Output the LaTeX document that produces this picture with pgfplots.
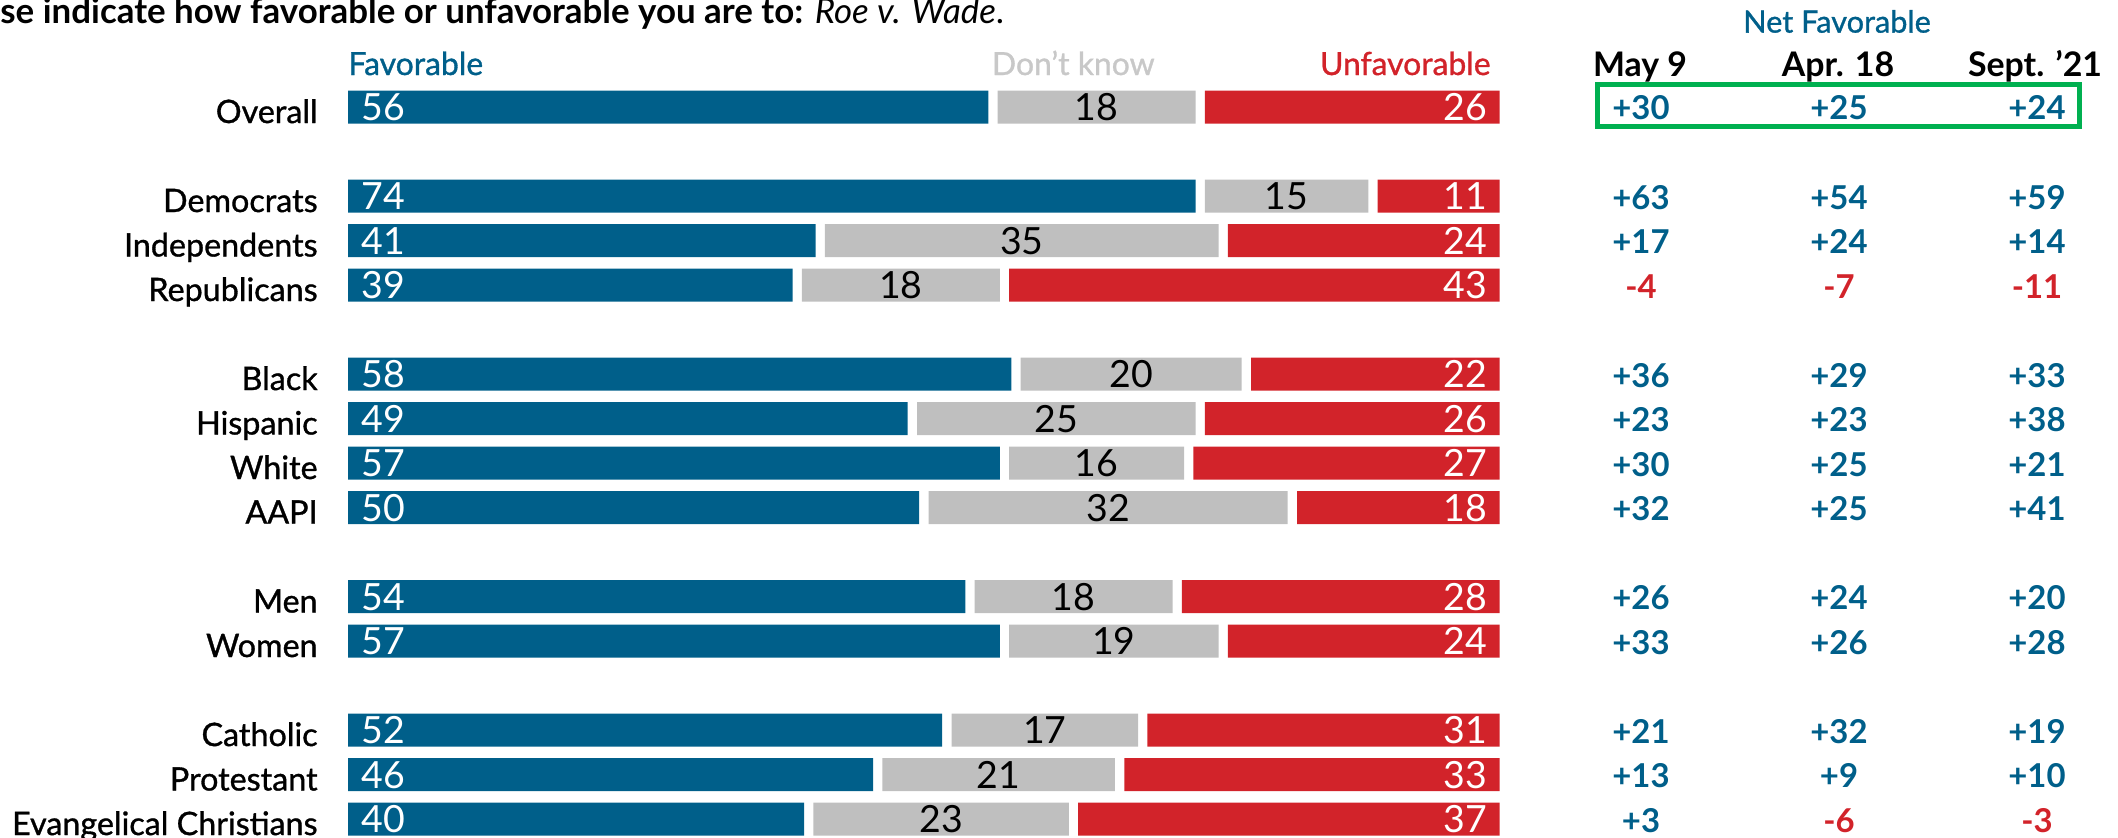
\documentclass[border=0pt]{standalone}
\usepackage{pgfplots}
\pgfplotsset{compat=1.18}
\usepackage{pgfplotstable}
\usepackage{fontspec}
\setmainfont{Lato}
\newfontfamily\med{Lato}[FakeBold=1]
\newcommand\demi{\bfseries}
\definecolor{cblue}{HTML}{005F8A}
\definecolor{cred}{HTML}{D2232A}
\definecolor{cgray}{HTML}{BFBFBF}
\definecolor{cdk}{HTML}{C8C8C8}
\definecolor{cgreen}{HTML}{00B050}

\pgfplotstableread{
row fav dk unf
0 56 18 26
2 74 15 11
3 41 35 24
4 39 18 43
6 58 20 22
7 49 25 26
8 57 16 27
9 50 32 18
11 54 18 28
12 57 19 24
14 52 17 31
15 46 21 33
16 40 23 37
}\data

\def\gap{0.81}
\def\hgap{0.405}

\pgfplotsset{
  common/.style={at={(174bp,-42.375bp)}, anchor=north west, scale only axis,
    width=575.85bp, height=378.25bp, xmin=0, xmax=100, ymin=-16.5, ymax=0.5, clip=false},
}

\begin{document}
\begin{tikzpicture}
\useasboundingbox (0,0) rectangle (1059bp,-419bp);
\node[anchor=base west, inner sep=0pt, font=\fontsize{17.5}{20}\selectfont] at (0,-11.8bp)
  {\textbf{se indicate how favorable or unfavorable you are to:} \textit{Roe v. Wade}.};

\begin{axis}[common, xbar stacked, bar width=16.5bp,
  axis line style={draw=none}, xtick=\empty, major tick length=0pt,
  ytick={0,-2,-3,-4,-6,-7,-8,-9,-11,-12,-14,-15,-16},
  yticklabels={Overall,Democrats,Independents,Republicans,Black,Hispanic,White,AAPI,Men,Women,Catholic,Protestant,Evangelical Christians},
  yticklabel style={anchor=base east, inner sep=0pt, xshift=-15bp, yshift=-8bp, font=\med\fontsize{16.2}{18}\selectfont}]
\addplot[fill=cblue, draw=none] table[x expr=\thisrow{fav}-\hgap, y expr=-\thisrow{row}] {\data};
\addplot[fill=none, draw=none] table[x expr=\gap, y expr=-\thisrow{row}] {\data};
\addplot[fill=cgray, draw=none] table[x expr=\thisrow{dk}-\gap, y expr=-\thisrow{row}] {\data};
\addplot[fill=none, draw=none] table[x expr=\gap, y expr=-\thisrow{row}] {\data};
\addplot[fill=cred, draw=none] table[x expr=\thisrow{unf}-\hgap, y expr=-\thisrow{row}] {\data};
\end{axis}

\begin{axis}[common, hide axis, nodes near coords, point meta=explicit symbolic]
\addplot[only marks, mark=none, nodes near coords style={anchor=base west, text=white, xshift=6.5bp, yshift=-6.85bp, inner sep=0pt, font=\fontsize{18.8}{20}\selectfont}]
  table[x expr=0, y expr=-\thisrow{row}, meta=fav] {\data};
\addplot[only marks, mark=none, nodes near coords style={anchor=base, text=black, yshift=-6.85bp, inner sep=0pt, font=\fontsize{18.8}{20}\selectfont}]
  table[x expr=\thisrow{fav}+\thisrow{dk}/2, y expr=-\thisrow{row}, meta=dk] {\data};
\addplot[only marks, mark=none, nodes near coords style={anchor=base east, text=white, xshift=-6bp, yshift=-6.85bp, inner sep=0pt, font=\fontsize{18.8}{20}\selectfont}]
  table[x expr=100, y expr=-\thisrow{row}, meta=unf] {\data};
\end{axis}

\begin{axis}[at={(820.5bp,-42.375bp)}, anchor=north west, scale only axis,
  width=198bp, height=378.25bp, xmin=1, xmax=3, ymin=-16.5, ymax=0.5,
  hide axis, clip=false, nodes near coords, point meta=explicit symbolic,
  nodes near coords style={anchor=base, yshift=-6.5bp, inner sep=0pt, font=\demi\fontsize{16.5}{18}\selectfont}]
\addplot[only marks, mark=none, nodes near coords style={text=cblue}] coordinates {
 (1,0) [+30] (2,0) [+25] (3,0) [+24]
 (1,-2) [+63] (2,-2) [+54] (3,-2) [+59]
 (1,-3) [+17] (2,-3) [+24] (3,-3) [+14]
 (1,-6) [+36] (2,-6) [+29] (3,-6) [+33]
 (1,-7) [+23] (2,-7) [+23] (3,-7) [+38]
 (1,-8) [+30] (2,-8) [+25] (3,-8) [+21]
 (1,-9) [+32] (2,-9) [+25] (3,-9) [+41]
 (1,-11) [+26] (2,-11) [+24] (3,-11) [+20]
 (1,-12) [+33] (2,-12) [+26] (3,-12) [+28]
 (1,-14) [+21] (2,-14) [+32] (3,-14) [+19]
 (1,-15) [+13] (2,-15) [+9] (3,-15) [+10]
 (1,-16) [+3]
};
\addplot[only marks, mark=none, nodes near coords style={text=cred}] coordinates {
 (1,-4) [-4] (2,-4) [-7] (3,-4) [-11]
 (2,-16) [-6] (3,-16) [-3]
};
\end{axis}

\draw[cgreen, line width=2.5bp] (798.75bp,-42.25bp) rectangle (1039.75bp,-63.25bp);

\node[anchor=base west, text=cblue, inner sep=0pt, font=\med\fontsize{16}{18}\selectfont] at (174bp,-37.5bp) {Favorable};
\node[anchor=base east, text=cdk, inner sep=0pt, font=\med\fontsize{16}{18}\selectfont] at (577.5bp,-37.5bp) {Don’t know};
\node[anchor=base east, text=cred, inner sep=0pt, font=\med\fontsize{16}{18}\selectfont] at (745.5bp,-37.5bp) {Unfavorable};
\node[anchor=base, text=cblue, inner sep=0pt, font=\med\fontsize{15.4}{18}\selectfont] at (918.5bp,-16.3bp) {Net Favorable};
\node[anchor=base, inner sep=0pt, font=\demi\fontsize{17}{18}\selectfont] at (820bp,-38bp) {May 9};
\node[anchor=base, inner sep=0pt, font=\demi\fontsize{17}{18}\selectfont] at (919bp,-38bp) {Apr. 18};
\node[anchor=base, inner sep=0pt, font=\demi\fontsize{17}{18}\selectfont] at (1017.5bp,-38bp) {Sept. ’21};
\end{tikzpicture}
\end{document}
